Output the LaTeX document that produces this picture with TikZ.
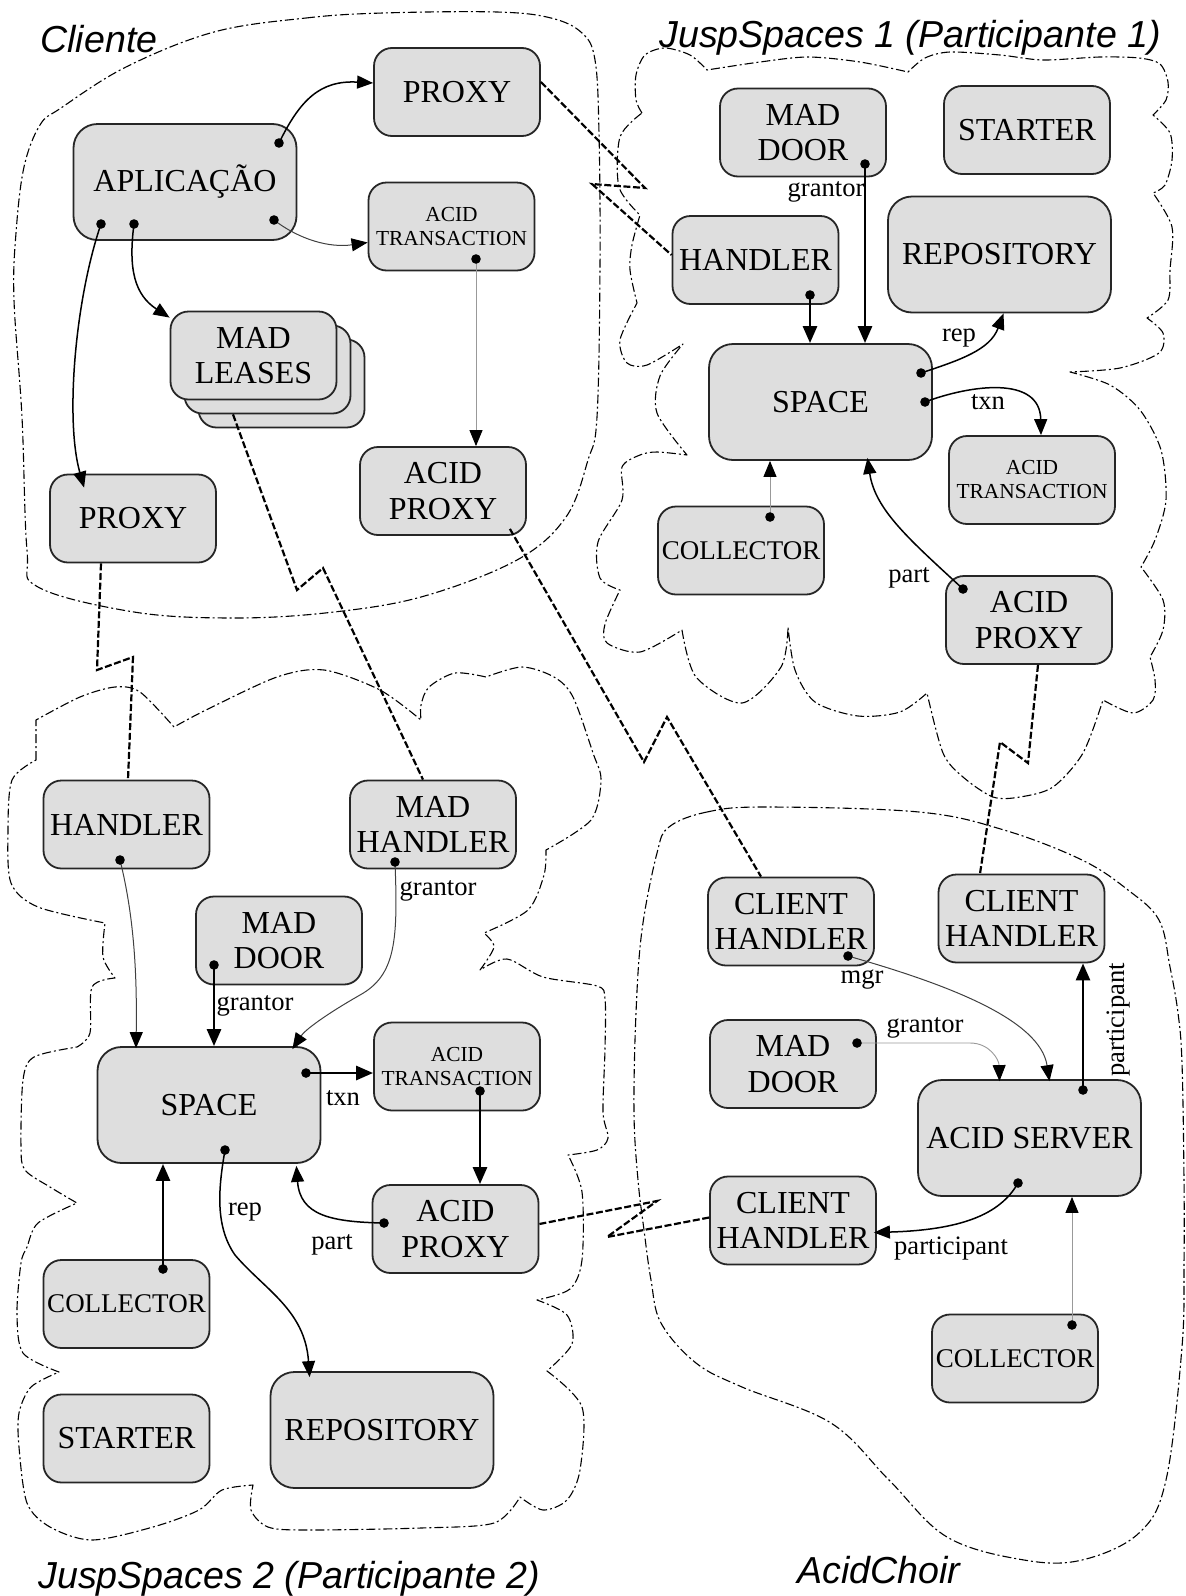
\documentclass[tikz,border=0pt]{standalone}
\usepackage{fontspec}
\setmainfont{Liberation Serif}
\newfontfamily\labelsans{Liberation Sans}
\usetikzlibrary{arrows.meta,calc}
\definecolor{boxgray}{RGB}{222,222,222}
\begin{document}
\begin{tikzpicture}[x=0.5pt,y=-0.5pt,
  box/.style={draw=black!85, fill=boxgray, line width=0.9pt, rounded corners=9pt,
    align=center, inner sep=0pt, font=\fontsize{16}{17.8}\selectfont},
  smallbox/.style={box, minimum width=83pt, minimum height=44pt},
  bigbox/.style={box, minimum width=111.5pt, minimum height=58pt, rounded corners=12pt},
  tinytext/.style={font=\fontsize{10.7}{12}\selectfont},
  colltext/.style={font=\fontsize{13.5}{15}\selectfont},
  tag/.style={font=\fontsize{13.3}{14}\selectfont, inner sep=0pt},
  region/.style={font=\labelsans\itshape\fontsize{18.8}{20}\selectfont, inner sep=0pt, anchor=base west},
  link/.style={line width=0.75pt, -{Triangle[length=8pt,width=6.5pt]}},
  thinlink/.style={line width=0.5pt, draw=black!75, -{Triangle[length=8pt,width=6.5pt,color=black]}},
  strong/.style={line width=1.4pt, -{Triangle[length=8.5pt,width=7pt]}},
  faint/.style={line width=0.45pt, draw=black!40, -{Triangle[length=8pt,width=6.5pt,color=black]}},
  remote/.style={line width=1.1pt, dash pattern=on 3.5pt off 1.3pt},
  cloud/.style={line width=0.55pt, dash pattern=on 4.5pt off 1.5pt on 1pt off 1.5pt, line join=round}]

\fill[white] (0,0) rectangle (1185,1596);
\useasboundingbox (0,0) rectangle (1185,1596);

% ---------- region outlines ----------
% Cliente
\draw[cloud] plot[smooth cycle, tension=0.6] coordinates {
  (214,32) (306,18) (383,13) (497,12) (551,18) (582,33) (595,60) (599,133)
  (600,267) (597,417) (588,460) (566,517) (517,560) (421,597) (325,613)
  (230,618) (134,612) (38,587) (27,550) (22,417) (14,300) (16,233) (24,167)
  (40,125) (61,108) (126,67)};

% JuspSpaces 1
\draw[cloud]
  plot[smooth] coordinates {(642,113) (636,100) (636,75) (645,55) (665,48) (690,55) (707,70)}
  -- plot[smooth] coordinates {(707,70) (760,62) (808,57) (860,62) (908,72)}
  -- plot[smooth] coordinates {(908,72) (925,58) (950,52) (1000,55) (1043,60) (1100,57) (1139,58) (1160,64) (1168,82) (1166,100) (1153,115)}
  -- plot[smooth] coordinates {(1153,115) (1170,133) (1172,160) (1165,185) (1153,193)}
  -- plot[smooth] coordinates {(1153,193) (1172,227) (1170,270) (1168,300) (1147,318)}
  -- plot[smooth] coordinates {(1147,318) (1163,333) (1159,353) (1120,368) (1070,372)}
  -- plot[smooth] coordinates {(1070,372) (1110,385) (1140,410) (1161,450) (1166,500) (1155,540) (1141,567)}
  -- plot[smooth] coordinates {(1141,567) (1163,600) (1163,630) (1150,657)}
  -- plot[smooth] coordinates {(1150,657) (1155,680) (1153,700) (1133,713) (1103,700)}
  -- plot[smooth] coordinates {(1103,700) (1083,753) (1053,787) (1020,797) (993,797) (963,777) (943,753) (927,693)}
  -- plot[smooth] coordinates {(927,693) (900,712) (858,716) (815,702) (795,670) (788,627)}
  -- plot[smooth] coordinates {(788,627) (781,667) (742,703) (696,677) (682,630)}
  -- plot[smooth] coordinates {(682,630) (640,652) (607,643) (605,624) (620,590)}
  -- plot[smooth] coordinates {(620,590) (600,578) (598,542) (622,500) (622,467) (640,455) (657,452) (687,455)}
  -- plot[smooth] coordinates {(687,455) (657,413) (660,376) (683,344)}
  -- plot[smooth] coordinates {(683,344) (647,365) (627,363) (620,340) (637,303)}
  -- plot[smooth] coordinates {(637,303) (630,270) (632,245) (640,215)}
  -- plot[smooth] coordinates {(640,215) (619,187) (620,137) (642,113)};

% JuspSpaces 2
\draw[cloud]
  plot[smooth] coordinates {(36,760) (36,720)}
  -- plot[smooth] coordinates {(36,720) (80,697) (115,687) (140,692) (174,727)}
  -- plot[smooth] coordinates {(174,727) (206,710) (277,677) (324,670) (380,690) (421,720)}
  -- plot[smooth] coordinates {(421,720) (421,705) (429,687) (455,673) (486,677)}
  -- plot[smooth] coordinates {(486,677) (522,667) (554,677) (573,697) (593,753) (601,780) (591,820) (546,850)}
  -- plot[smooth] coordinates {(546,850) (544,875) (528,910) (484,933)}
  -- plot[smooth] coordinates {(484,933) (494,947) (480,970)}
  -- plot[smooth] coordinates {(480,970) (507,959) (543,977) (597,986) (605,999) (605,1049) (603,1112) (608,1138) (597,1150) (568,1155)}
  -- plot[smooth] coordinates {(568,1155) (582,1192) (582,1260) (570,1289) (537,1300)}
  -- plot[smooth] coordinates {(537,1300) (567,1315) (572,1344) (547,1371)}
  -- plot[smooth] coordinates {(547,1371) (582,1407) (580,1470) (567,1500) (543,1510) (520,1497)}
  -- plot[smooth] coordinates {(520,1497) (494,1523) (421,1528) (306,1530) (268,1527) (251,1510) (253,1485)}
  -- plot[smooth] coordinates {(253,1485) (222,1490) (199,1510) (153,1527) (92,1540) (50,1527) (27,1503) (19,1447) (19,1413) (31,1387) (59,1372)}
  -- plot[smooth] coordinates {(59,1372) (23,1353) (17,1313) (21,1263) (27,1247) (38,1223) (77,1203)}
  -- plot[smooth] coordinates {(77,1203) (50,1187) (25,1170) (21,1147) (23,1080) (34,1057) (77,1047)}
  -- plot[smooth] coordinates {(77,1047) (90,1033) (92,987) (115,978)}
  -- plot[smooth] coordinates {(115,978) (103,957) (105,923)}
  -- plot[smooth] coordinates {(105,923) (38,907) (11,883) (8,830) (12,780) (36,760)};

% AcidChoir
\draw[cloud] plot[smooth cycle, tension=0.6] coordinates {
  (669,827) (707,812) (765,807) (919,812) (1004,830) (1082,860) (1128,890)
  (1159,920) (1170,967) (1178,1013) (1182,1063) (1184,1180) (1184,1263)
  (1182,1347) (1166,1480) (1139,1533) (1082,1560) (1024,1560) (947,1537)
  (889,1480) (831,1423) (742,1387) (696,1363) (661,1323) (651,1280)
  (644,1230) (638,1180) (634,1113) (636,1013) (642,930) (657,853)};

% ---------- components ----------
% Cliente
\node[smallbox] (proxyA) at (457,92) {PROXY};
\node[bigbox] (aplic) at (185,182) {APLICAÇÃO};
\node[smallbox, tinytext] (atxA) at (451.5,226.5) {ACID\\TRANSACTION};
\node[smallbox] (mlC) at (281.5,383.5) {};
\node[smallbox] (mlB) at (267.5,369.5) {};
\node[smallbox] (mlA) at (253.5,355.5) {MAD\\LEASES};
\node[smallbox] (proxyB) at (133,518.5) {PROXY};
\node[smallbox] (aproxA) at (443,491) {ACID\\PROXY};

% JuspSpaces 1
\node[smallbox] (mdoor1) at (803,132.5) {MAD\\DOOR};
\node[smallbox] (start1) at (1027,130) {STARTER};
\node[smallbox] (hand1) at (755.5,260) {HANDLER};
\node[bigbox] (repo1) at (999.5,254.5) {REPOSITORY};
\node[bigbox] (space1) at (820.5,402) {SPACE};
\node[smallbox, tinytext] (atx1) at (1032,480) {ACID\\TRANSACTION};
\node[smallbox, colltext] (coll1) at (741,550.5) {COLLECTOR};
\node[smallbox] (aprox1) at (1029,620) {ACID\\PROXY};

% JuspSpaces 2
\node[smallbox] (hand2) at (126.5,824.5) {HANDLER};
\node[smallbox] (mhand2) at (433,824.5) {MAD\\HANDLER};
\node[smallbox] (mdoor2) at (279,940.5) {MAD\\DOOR};
\node[bigbox] (space2) at (209,1105) {SPACE};
\node[smallbox, tinytext] (atx2) at (457,1066.5) {ACID\\TRANSACTION};
\node[smallbox] (aprox2) at (455.5,1229) {ACID\\PROXY};
\node[smallbox, colltext] (coll2) at (126.5,1304) {COLLECTOR};
\node[smallbox] (start2) at (126.5,1438.5) {STARTER};
\node[bigbox] (repo2) at (382,1430) {REPOSITORY};

% AcidChoir
\node[smallbox] (ch1) at (791,921.5) {CLIENT\\HANDLER};
\node[smallbox] (ch2) at (1021.5,918.5) {CLIENT\\HANDLER};
\node[smallbox] (mdoor3) at (793,1064) {MAD\\DOOR};
\node[bigbox] (aserv) at (1029.5,1138) {ACID SERVER};
\node[smallbox] (ch3) at (793,1220.5) {CLIENT\\HANDLER};
\node[smallbox, colltext] (coll3) at (1015,1358.5) {COLLECTOR};

% ---------- reference ports ----------
\coordinate (d1) at (279,143);
\coordinate (d2) at (274,220);
\coordinate (d3) at (134,224);
\coordinate (d4) at (101,224);
\coordinate (d5) at (476,259);
\coordinate (d12) at (865,164);
\coordinate (d13) at (810,295);
\coordinate (d14) at (921,373);
\coordinate (d15) at (925,402);
\coordinate (d16) at (770,517);
\coordinate (d17) at (963,589);
\coordinate (d18) at (120,860);
\coordinate (d19) at (214,965);
\coordinate (d20) at (395,862);
\coordinate (d21) at (306,1073);
\coordinate (d22) at (480,1091);
\coordinate (d23) at (225,1150);
\coordinate (d24) at (384,1223);
\coordinate (d25) at (163,1269);
\coordinate (d26) at (848,956);
\coordinate (d27) at (857,1043);
\coordinate (d28) at (1083,1090);
\coordinate (d29) at (1018,1183);
\coordinate (d30) at (1072,1325);

% ---------- remote references ----------
\draw[remote] ($(proxyA.east)+(0,-10)$) -- (645,188) -- (592,184) -- ($(hand1.west)+(0,-5)$);
\draw[remote] ($(proxyB.south)+(-32,0)$) -- (97,670) -- (133,657) -- ($(hand2.north)+(1.5,0)$);
\draw[remote] ($(mlB.south)+(-34.5,0)$) -- (297,590) -- (323,568) -- ($(mhand2.north)+(-10,0)$);
\draw[remote] ($(aproxA.south east)+(-17,-7)$) -- (644,762) -- (667,717) -- ($(ch1.north)+(-30,0)$);
\draw[remote] ($(aprox1.south)+(9,0)$) -- (1028,763) -- (1000,742) -- ($(ch2.north)+(-41.5,0)$);
\draw[remote] ($(aprox2.east)+(0,-5)$) -- (657,1201) -- (607,1237) -- ($(ch3.west)+(0,-3)$);

% ---------- local references ----------
% Cliente
\draw[link] (d1) .. controls (300,100) and (320,80) .. ($(proxyA.west)+(0,-9)$);
\draw[thinlink] (d2) .. controls (300,240) and (330,248) .. ($(atxA.west)+(0,16)$);
\draw[link] (d3) .. controls (128,270) and (135,295) .. ($(mlA.north west)+(0,7)$);
\draw[link] (d4) .. controls (75,300) and (65,420) .. ($(proxyB.north west)+(35,14)$);
\draw[faint] (d5) -- (d5 |- aproxA.north);

% JuspSpaces 1
\draw[strong] (d12) -- (d12 |- space1.north);
\draw[strong] (d13) -- (d13 |- space1.north);
\draw[link] (d14) .. controls (960,360) and (990,350) .. ($(repo1.south)+(4,0)$);
\draw[link] (d15) .. controls (970,385) and (1040,375) .. ($(atx1.north)+(9,0)$);
\draw[faint] (d16) -- (d16 |- space1.south);
\draw[link] (d17) .. controls (910,540) and (875,510) .. ($(space1.south)+(47,-3)$);

% JuspSpaces 2
\draw[thinlink] (d18) .. controls (135,920) and (137,980) .. ($(space2.north)+(-73,2)$);
\draw[strong] (d19) -- (d19 |- space2.north);
\draw[thinlink] (d20) .. controls (398,940) and (396,975) .. (360,995)
  .. controls (325,1015) and (305,1030) .. ($(space2.north east)+(-29,3)$);
\draw[strong] (d21) -- (d21 -| atx2.west);
\draw[strong] (d22) -- (d22 |- aprox2.north);
\draw[link] (d23) .. controls (219,1185) and (214,1225) .. (235,1255)
  .. controls (265,1290) and (305,1310) .. ($(repo2.north west)+(40,6)$);
\draw[link] (d24) .. controls (330,1222) and (300,1215) .. ($(space2.south east)+(-25,2)$);
\draw[strong] (d25) -- (d25 |- space2.south);

% AcidChoir
\draw[thinlink] (d26) .. controls (950,985) and (1040,1020) .. ($(aserv.north)+(20,2)$);
\draw[faint] (d27) -- (970,1043) .. controls (990,1043) and (999,1060) .. ($(aserv.north)+(-30,2)$);
\draw[strong] (d28) -- (d28 |- ch2.south);
\draw[link] (d29) .. controls (1000,1215) and (960,1230) .. ($(ch3.east)+(-3,12)$);
\draw[faint] (d30) -- (d30 |- aserv.south);

\foreach \p in {d1,d2,d3,d4,d5,d12,d13,d14,d15,d16,d17,d18,d19,d20,d21,d22,d23,d24,d25,d26,d27,d28,d29,d30}
  \fill (\p) circle[radius=2.4pt];

% ---------- reference names ----------
\node[tag] (t1) at (826,192) {grantor};
\node[tag] (t2) at (959,338) {rep};
\node[tag] (t3) at (988,402) {txn};
\node[tag] (t4) at (909,578) {part};
\node[tag] (t5) at (438,891) {grantor};
\node[tag] (t6) at (255,1006) {grantor};
\node[tag] (t7) at (343,1098) {txn};
\node[tag] (t8) at (245,1212) {rep};
\node[tag] (t9) at (332,1245) {part};
\node[tag] (t10) at (862,980) {mgr};
\node[tag] (t11) at (925,1028) {grantor};
\node[tag, rotate=90] (t12) at (1119,1020) {participant};
\node[tag] (t13) at (951,1249) {participant};

% ---------- region names ----------
\node[region] (rcli) at (40,52) {Cliente};
\node[region] (rjs1) at (659,47) {JuspSpaces 1 (Participante 1)};
\node[region] (rjs2) at (38,1588) {JuspSpaces 2 (Participante 2)};
\node[region] (racid) at (797,1583) {AcidChoir};
\end{tikzpicture}
\end{document}
